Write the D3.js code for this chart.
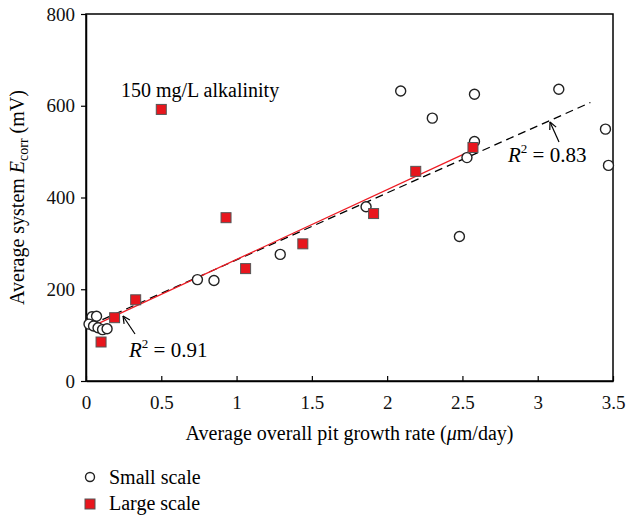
<!DOCTYPE html>
<html>
<head>
<meta charset="utf-8">
<script src="https://cdn.jsdelivr.net/npm/d3@7"></script>
<style>
  body { margin: 0; background: #fff; }
  svg { font-family: "Liberation Serif", "DejaVu Serif", serif; }
</style>
</head>
<body>
<svg width="629" height="516"></svg>
<script>
// small scale data (open circles)
var smallX = [0.04, 0.07, 0.02, 0.05, 0.08, 0.11, 0.14, 0.74, 0.85, 1.29, 1.86, 2.09, 2.30, 2.48, 2.53, 2.58, 2.58, 3.14, 3.45, 3.47];
var smallY = [140, 141, 124, 120, 116, 112, 114, 221, 219, 276, 380, 632, 573, 315, 487, 522, 625, 636, 549, 470];

// large scale data (red squares)
var largeX = [0.10, 0.19, 0.33, 0.50, 0.93, 1.06, 1.44, 1.91, 2.19, 2.57];
var largeY = [85, 138, 177, 592, 356, 245, 299, 365, 457, 509];

// linear fits: [intercept, slope, xStart, xEnd]
var smallFit = [118, 146, 0.03, 3.35];
var largeFit = [113, 152, 0.08, 2.57];

var xTicks = [0, 0.5, 1, 1.5, 2, 2.5, 3, 3.5];
var yTicks = [0, 200, 400, 600, 800];

var svg = d3.select("svg");

var mLeft = 86, mRight = 613, mTop = 14, mBottom = 381;

var xScale = d3.scaleLinear().domain([0, 3.5]).range([mLeft, mRight]);
var yScale = d3.scaleLinear().domain([0, 800]).range([mBottom, mTop]);

// frame
svg.append("rect")
	.attr("x", mLeft).attr("y", mTop)
	.attr("width", mRight - mLeft).attr("height", mBottom - mTop)
	.attr("fill", "none").attr("stroke", "#000").attr("stroke-width", 1.5);

// x axis, ticks pointing up into the plot
var xAxis = d3.axisBottom(xScale)
	.tickValues(xTicks)
	.tickSizeInner(-5)
	.tickSizeOuter(0)
	.tickPadding(15)
	.tickFormat(d3.format(""));

var gx = svg.append("g")
	.attr("transform", "translate(0," + mBottom + ")")
	.call(xAxis);

// y axis, ticks pointing left
var yAxis = d3.axisLeft(yScale)
	.tickValues(yTicks)
	.tickSizeInner(5)
	.tickSizeOuter(0)
	.tickPadding(6);

var gy = svg.append("g")
	.attr("transform", "translate(" + mLeft + ",0)")
	.call(yAxis);

[gx, gy].forEach(function(g) {
	g.select(".domain").attr("stroke-width", 1.5);
	g.selectAll(".tick line").attr("stroke-width", 1.2);
	g.selectAll(".tick text")
		.attr("font-family", "Liberation Serif, serif")
		.attr("font-size", 19)
		.attr("fill", "#111");
});

// axis titles
svg.append("text")
	.attr("x", (mLeft + mRight) / 2)
	.attr("y", 440)
	.attr("text-anchor", "middle")
	.attr("font-size", 20)
	.html("Average overall pit growth rate (<tspan font-style='italic'>μ</tspan>m/day)");

svg.append("text")
	.attr("transform", "translate(24," + ((mTop + mBottom) / 2) + ") rotate(-90)")
	.attr("text-anchor", "middle")
	.attr("font-size", 20)
	.html("Average system <tspan font-style='italic'>E</tspan><tspan font-size='14' dy='4'>corr</tspan><tspan dy='-4'> (mV)</tspan>");

// fit lines
var line = d3.line()
	.x(function(d) { return xScale(d[0]); })
	.y(function(d) { return yScale(d[1]); });

function fitPoints(f) {
	return [[f[2], f[0] + f[1] * f[2]], [f[3], f[0] + f[1] * f[3]]];
}

svg.append("path")
	.attr("d", line(fitPoints(smallFit)))
	.attr("fill", "none")
	.attr("stroke", "#000")
	.attr("stroke-width", 1.3)
	.attr("stroke-dasharray", "8,5");

svg.append("path")
	.attr("d", line(fitPoints(largeFit)))
	.attr("fill", "none")
	.attr("stroke", "#ee1c24")
	.attr("stroke-width", 1.3);

// small scale points
var small = smallX.map(function(x, i) { return [x, smallY[i]]; });
svg.append("g").selectAll("circle")
	.data(small)
	.enter().append("circle")
	.attr("cx", function(d) { return xScale(d[0]); })
	.attr("cy", function(d) { return yScale(d[1]); })
	.attr("r", 5)
	.attr("fill", "#fff")
	.attr("stroke", "#222")
	.attr("stroke-width", 1.4);

// large scale points
var large = largeX.map(function(x, i) { return [x, largeY[i]]; });
svg.append("g").selectAll("rect")
	.data(large)
	.enter().append("rect")
	.attr("x", function(d) { return xScale(d[0]) - 5; })
	.attr("y", function(d) { return yScale(d[1]) - 5; })
	.attr("width", 10)
	.attr("height", 10)
	.attr("fill", "#e8161d")
	.attr("stroke", "#555")
	.attr("stroke-width", 1);

// annotations
svg.append("text")
	.attr("x", 121).attr("y", 97)
	.attr("font-size", 20)
	.text("150 mg/L alkalinity");

function r2Label(x, y, val) {
	var t = svg.append("text").attr("x", x).attr("y", y).attr("font-size", 21);
	t.append("tspan").attr("font-style", "italic").text("R");
	t.append("tspan").attr("font-size", 13).attr("dy", -9).text("2");
	t.append("tspan").attr("dy", 9).text(" = " + val);
}
r2Label(129, 357, "0.91");
r2Label(508, 162, "0.83");

// arrows
function arrow(x1, y1, x2, y2) {
	svg.append("line")
		.attr("x1", x1).attr("y1", y1).attr("x2", x2).attr("y2", y2)
		.attr("stroke", "#000").attr("stroke-width", 1.2);
	var a = Math.atan2(y2 - y1, x2 - x1);
	var len = 8;
	[-0.45, 0.45].forEach(function(o) {
		svg.append("line")
			.attr("x1", x2).attr("y1", y2)
			.attr("x2", x2 - len * Math.cos(a + o))
			.attr("y2", y2 - len * Math.sin(a + o))
			.attr("stroke", "#000").attr("stroke-width", 1.2);
	});
}
arrow(135, 334, 123, 316);
arrow(559, 142, 550, 122);

// legend
svg.append("circle")
	.attr("cx", 90).attr("cy", 477).attr("r", 4.5)
	.attr("fill", "#fff").attr("stroke", "#222").attr("stroke-width", 1.4);
svg.append("text").attr("x", 109).attr("y", 484).attr("font-size", 20).text("Small scale");

svg.append("rect")
	.attr("x", 85).attr("y", 499).attr("width", 10).attr("height", 10)
	.attr("fill", "#e8161d").attr("stroke", "#555").attr("stroke-width", 1);
svg.append("text").attr("x", 109).attr("y", 510).attr("font-size", 20).text("Large scale");
</script>
</body>
</html>
